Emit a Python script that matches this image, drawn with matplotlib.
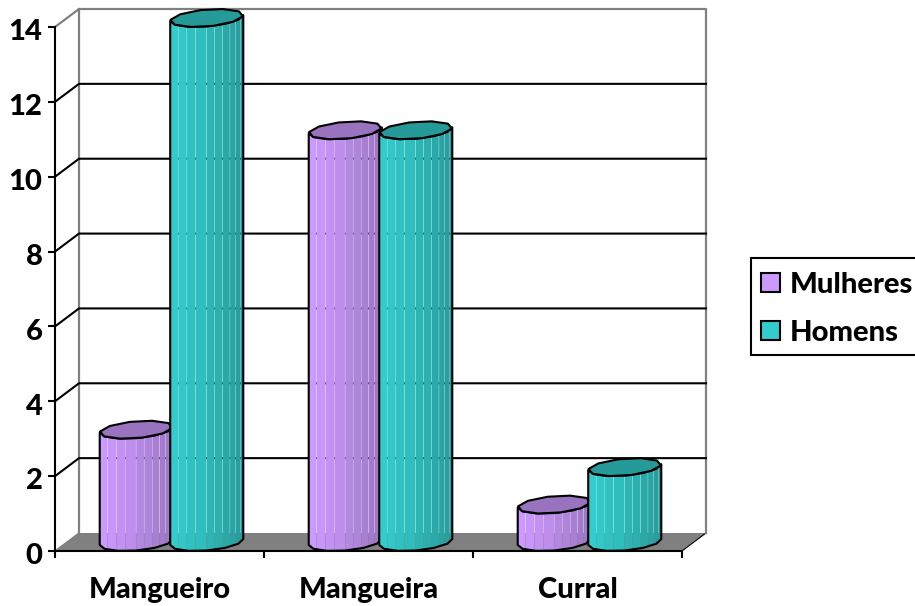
import numpy as np
import matplotlib
matplotlib.use('Agg')
import matplotlib.pyplot as plt
from matplotlib.patches import Patch, Polygon, Rectangle
from matplotlib.transforms import ScaledTranslation

plt.rcParams['font.family'] = ['Lato', 'DejaVu Sans']
plt.rcParams['font.weight'] = 'black'

categories = ['Mangueiro', 'Mangueira', 'Curral']
mulheres = [3, 11, 1]
homens = [14, 11, 2]
yticks = [0, 2, 4, 6, 8, 10, 12, 14]

FIG_W, FIG_H = 915, 606
LEFT, RIGHT, BOTTOM, TOP = 55, 682, 551, 27

# px to data units for the front plane
PX_X = 3.0 / (RIGHT - LEFT)
PX_Y = 14.0 / (BOTTOM - TOP)
DEPTH_X = 24 * PX_X
DEPTH_Y = 18 * PX_Y

OFFSET = 70.5 * PX_X / 2
RADIUS = 34.5 * PX_X

FACETS = [0, .11, .23, .35, .50, .61, .72, .82, .90, .96, 1]
SHADES = np.array([1.0, .98, .95, .93, .88, .86, .83, .80, .78, .75])
PURPLE = np.array([0xCC, 0x99, 0xFF]) / 255
TEAL = np.array([0x33, 0xCC, 0xCC]) / 255
LW = 1.5


def ring(cx, base, t):
    # outline of the cylinder section, leaning back with the depth axis
    x = cx + RADIUS * np.cos(t) + DEPTH_X / 2 * np.sin(t)
    y = base + DEPTH_Y / 2 + DEPTH_Y / 2 * np.sin(t)
    return x, y


def cylinder(ax, front_x, value, colour, z):
    cx = front_x + DEPTH_X / 2
    # angle is scaled to pixels so the extremes land on the silhouette
    phi = np.arctan2(12.0, 34.5)
    half = 36.5 * PX_X
    t_front = np.linspace(phi + np.pi, phi + 2 * np.pi, 7)
    bx, by = ring(cx, 0, t_front)
    tx, ty = ring(cx, value, t_front)
    body = Polygon(np.column_stack([np.r_[bx, tx[::-1]], np.r_[by, ty[::-1]]]),
                   closed=True, facecolor='none', edgecolor='black',
                   linewidth=LW, zorder=z + 1, clip_on=False, joinstyle='round')
    ax.add_patch(body)

    left = cx - half
    gap = 0.3 * PX_X
    for i, shade in enumerate(SHADES):
        x0 = left + FACETS[i] * 2 * half
        x1 = left + FACETS[i + 1] * 2 * half
        bar = ax.bar(x0, value + DEPTH_Y * 2, width=x1 - x0 - gap, align='edge',
                     color=colour * shade, linewidth=0, zorder=z)[0]
        bar.set_snap(False)
        bar.set_clip_box(None)
        bar.set_clip_path(body)

    t_top = np.linspace(0, 2 * np.pi, 11)[:-1] + 0.2
    px, py = ring(cx, value, t_top)
    ax.add_patch(Polygon(np.column_stack([px, py]), closed=True,
                         facecolor=colour * 0.75, edgecolor='black', linewidth=LW,
                         zorder=z + 2, clip_on=False, joinstyle='round'))


fig = plt.figure(figsize=(FIG_W / 100, FIG_H / 100), dpi=100)
ax = fig.add_axes([LEFT / FIG_W, 1 - BOTTOM / FIG_H,
                   (RIGHT - LEFT) / FIG_W, (BOTTOM - TOP) / FIG_H])
ax.set_xlim(0, 3)
ax.set_ylim(0, 14)
ax.patch.set_visible(False)
for side in ['top', 'right']:
    ax.spines[side].set_visible(False)
for side in ['left', 'bottom']:
    ax.spines[side].set_linewidth(LW)
    ax.spines[side].set_zorder(40)

# floor
ax.add_patch(Polygon([(0, 0), (3, 0), (3 + DEPTH_X, DEPTH_Y), (DEPTH_X, DEPTH_Y)],
                     closed=True, facecolor='#808080', edgecolor='none',
                     zorder=1, clip_on=False))
ax.plot([3, 3 + DEPTH_X], [0, DEPTH_Y], color='black', lw=0.8, zorder=2, clip_on=False)
ax.plot([0, DEPTH_X], [0, DEPTH_Y], color='#808080', lw=1, zorder=2, clip_on=False)

# walls and grid
for v in yticks[1:-1]:
    ax.plot([0, DEPTH_X, 3 + DEPTH_X], [v, v + DEPTH_Y, v + DEPTH_Y],
            color='black', lw=LW, zorder=3, clip_on=False)
ax.plot([0, DEPTH_X, 3 + DEPTH_X, 3 + DEPTH_X],
        [14, 14 + DEPTH_Y, 14 + DEPTH_Y, DEPTH_Y],
        color='#808080', lw=1.6, zorder=2, clip_on=False)
ax.plot([DEPTH_X, DEPTH_X], [DEPTH_Y, 14 + DEPTH_Y], color='#808080', lw=1.6,
        zorder=2, clip_on=False)

z = 5
for i in range(len(categories)):
    cylinder(ax, i + 0.5 - OFFSET, mulheres[i], PURPLE, z)
    cylinder(ax, i + 0.5 + OFFSET, homens[i], TEAL, z + 5)
    z += 10

ax.set_yticks(yticks)
ax.set_xticks([0, 1, 2, 3])
ax.set_xticklabels([])
ax.set_xticks([0.5, 1.5, 2.5], labels=categories, minor=True)
ax.tick_params(axis='y', length=5, width=LW, labelsize=21, pad=4)
ax.tick_params(axis='x', which='major', length=5, width=LW)
ax.tick_params(axis='x', which='minor', length=0, labelsize=21, pad=19)

# the value labels sit slightly under their tick marks
nudge = ScaledTranslation(0, -2 / 72, fig.dpi_scale_trans)
for label in ax.get_yticklabels():
    label.set_transform(label.get_transform() + nudge)

# legend box runs off the right side of the figure
fig.add_artist(Rectangle((751 / FIG_W, 1 - 355 / FIG_H), 180 / FIG_W, 97 / FIG_H,
                         transform=fig.transFigure, facecolor='white',
                         edgecolor='black', linewidth=LW))
legend_handles = [Patch(facecolor=PURPLE, edgecolor='black', linewidth=LW, label='Mulheres'),
                  Patch(facecolor=TEAL, edgecolor='black', linewidth=LW, label='Homens')]
fig.legend(handles=legend_handles, loc='upper left',
           bbox_to_anchor=(761 / FIG_W, 1 - 272 / FIG_H), borderaxespad=0,
           fontsize=21, frameon=False, handlelength=0.65, handleheight=0.65,
           handletextpad=0.34, borderpad=0, labelspacing=0.74)

fig.savefig('out.png', dpi=100)
